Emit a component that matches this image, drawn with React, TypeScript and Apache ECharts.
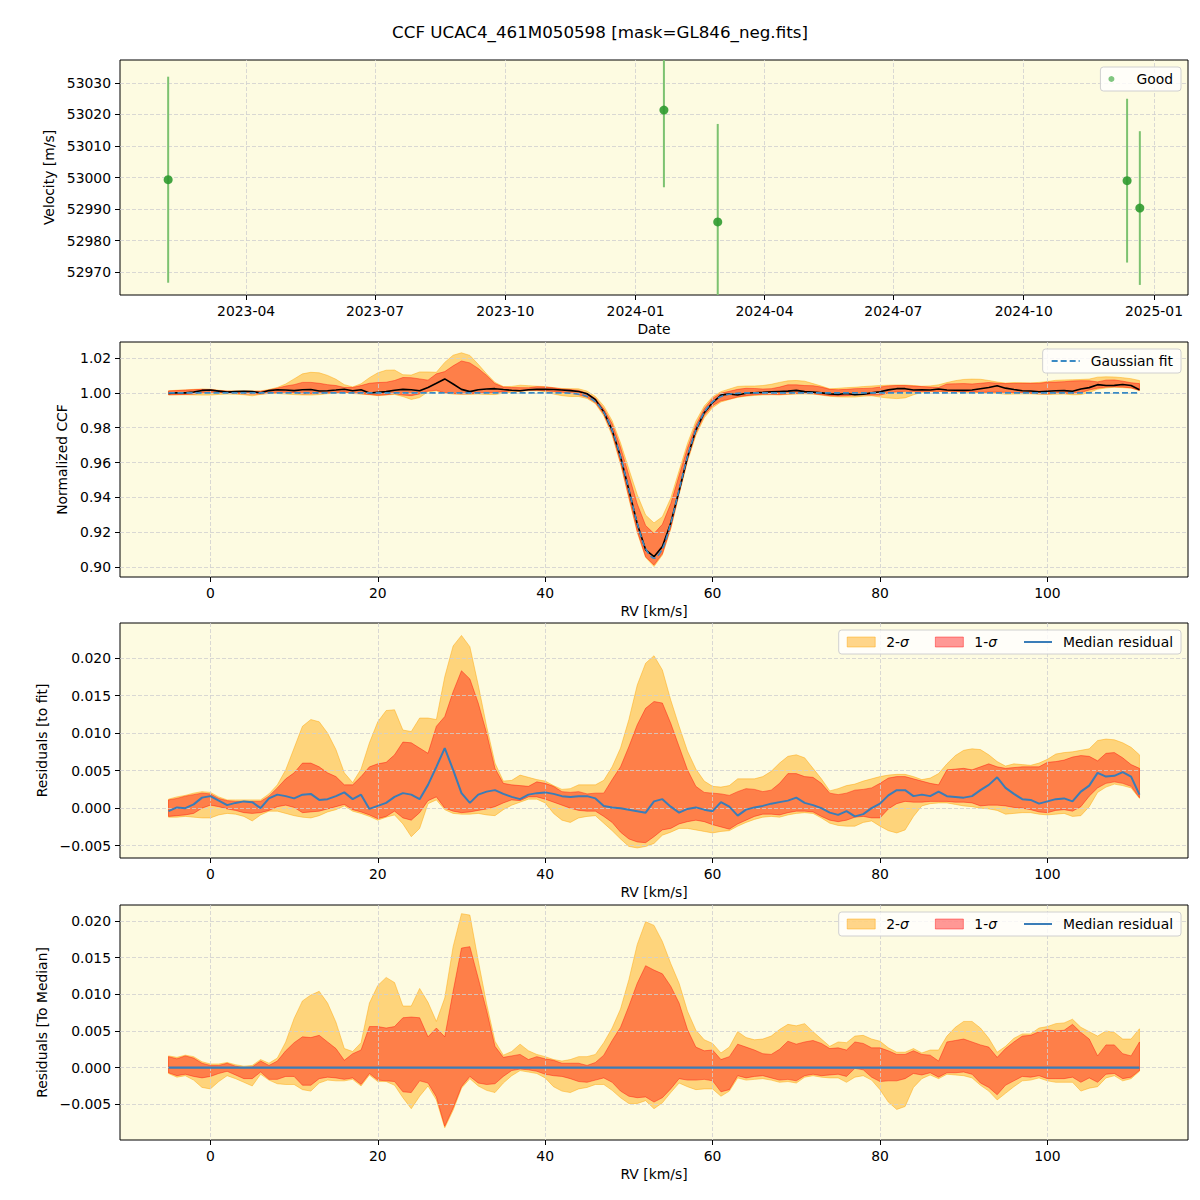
import React, { useEffect, useRef } from 'react';
import * as echarts from 'echarts';

const FONT = 'DejaVu Sans';
const TITLE = 'CCF UCAC4_461M050598 [mask=GL846_neg.fits]';

// ---------- Panel 1: velocities ----------
const obsDates = ['2023-02-05', '2024-01-21', '2024-02-28', '2024-12-13', '2024-12-22'];
const velocities = [52999.3, 53021.4, 52985.9, 52999.0, 52990.3];
const velErrors = [32.7, 24.5, 31.1, 26.0, 24.4];
const dateTicks = ['2023-04-01', '2023-07-01', '2023-10-01', '2024-01-01', '2024-04-01', '2024-07-01', '2024-10-01', '2025-01-01'];
const dateRange = ['2023-01-02', '2025-01-25'];
const velTicks = [52970, 52980, 52990, 53000, 53010, 53020, 53030];

// ---------- RV grid (km/s) ----------
const RV_START = -5;
const RV_END = 111;
const rv = Array.from({ length: RV_END - RV_START + 1 }, (_, i) => RV_START + i);
const rvTicks = [0, 20, 40, 60, 80, 100];
const ccfTicks = [0.9, 0.92, 0.94, 0.96, 0.98, 1.0, 1.02];
const resTicks = [-0.005, 0, 0.005, 0.01, 0.015, 0.02];

// Gaussian fit
const gaussFit = [
  1, 1, 1, 1, 1, 1, 1, 1, 1, 1,
  1, 1, 1, 1, 1, 1, 1, 1, 1, 1,
  1, 1, 1, 1, 1, 1, 1, 1, 1, 1,
  1, 1, 1, 1, 1, 1, 1, 1, 1, 1,
  1, 1, 1, 1, 1, 1, 1, 1,
  0.9998, 0.9992, 0.9979, 0.9948, 0.9888, 0.9785, 0.9633, 0.9444, 0.9251, 0.9105,
  0.905, 0.9105, 0.9251, 0.9444, 0.9633, 0.9785, 0.9888, 0.9948, 0.9979, 0.9992, 0.9998,
  1, 1, 1, 1, 1, 1, 1, 1, 1, 1,
  1, 1, 1, 1, 1, 1, 1, 1, 1, 1,
  1, 1, 1, 1, 1, 1, 1, 1, 1, 1,
  1, 1, 1, 1, 1, 1, 1, 1, 1, 1,
  1, 1, 1, 1, 1, 1, 1, 1,
];

// Median residual (to fit)
const medRes = [
  -0.0004, 0.0001, 0.0000, 0.0005, 0.0014, 0.0016, 0.0010, 0.0004, 0.0007, 0.0009,
  0.0008, 0.0000, 0.0013, 0.0018, 0.0016, 0.0013, 0.0018, 0.0019, 0.0011, 0.0012,
  0.0016, 0.0021, 0.0012, 0.0018, -0.0001, 0.0003, 0.0007, 0.0015, 0.0020, 0.0018,
  0.0012, 0.0031, 0.0055, 0.0080, 0.0051, 0.0020, 0.0007, 0.0018, 0.0022, 0.0024,
  0.0019, 0.0015, 0.0012, 0.0018, 0.0020, 0.0021, 0.0019, 0.0016, 0.0015, 0.0016,
  0.0016, 0.0013, 0.0003, 0.0001, 0.0000, -0.0002, -0.0004, -0.0006, 0.0009, 0.0012,
  0.0002, -0.0006, -0.0001, 0.0001, -0.0002, -0.0004, 0.0008, 0.0002, -0.0010, -0.0002,
  0.0001, 0.0003, 0.0006, 0.0008, 0.0010, 0.0014, 0.0007, 0.0004, 0.0000, -0.0006,
  -0.0009, -0.0004, -0.0011, -0.0008, 0.0000, 0.0006, 0.0017, 0.0024, 0.0024, 0.0016,
  0.0018, 0.0016, 0.0022, 0.0016, 0.0015, 0.0014, 0.0016, 0.0024, 0.0031, 0.0041,
  0.0027, 0.0019, 0.0012, 0.0011, 0.0006, 0.0009, 0.0012, 0.0013, 0.0009, 0.0022,
  0.0030, 0.0047, 0.0042, 0.0043, 0.0048, 0.0042, 0.0018,
];

// 1-sigma band of residuals (to fit)
const hi1 = [
  0.0011, 0.0013, 0.0016, 0.0018, 0.0020, 0.0019, 0.0013, 0.0010, 0.0009, 0.0009,
  0.0009, 0.0009, 0.0016, 0.0027, 0.0039, 0.0047, 0.0060, 0.0060, 0.0055, 0.0047,
  0.0042, 0.0031, 0.0031, 0.0042, 0.0055, 0.0059, 0.0061, 0.0071, 0.0088, 0.0087,
  0.0080, 0.0073, 0.0109, 0.0122, 0.0155, 0.0183, 0.0172, 0.0140, 0.0100, 0.0053,
  0.0033, 0.0031, 0.0030, 0.0029, 0.0035, 0.0033, 0.0029, 0.0022, 0.0021, 0.0022,
  0.0019, 0.0020, 0.0020, 0.0038, 0.0055, 0.0082, 0.0111, 0.0133, 0.0142, 0.0140,
  0.0113, 0.0082, 0.0051, 0.0029, 0.0021, 0.0020, 0.0019, 0.0017, 0.0022, 0.0026,
  0.0025, 0.0022, 0.0024, 0.0033, 0.0046, 0.0046, 0.0042, 0.0041, 0.0033, 0.0020,
  0.0018, 0.0020, 0.0024, 0.0025, 0.0027, 0.0033, 0.0040, 0.0042, 0.0042, 0.0039,
  0.0036, 0.0033, 0.0031, 0.0051, 0.0052, 0.0053, 0.0051, 0.0055, 0.0059, 0.0055,
  0.0053, 0.0054, 0.0055, 0.0055, 0.0055, 0.0061, 0.0062, 0.0064, 0.0068, 0.0070,
  0.0069, 0.0063, 0.0073, 0.0074, 0.0067, 0.0058, 0.0053,
];
const lo1 = [
  -0.0011, -0.0010, -0.0009, -0.0007, 0.0000, 0.0004, 0.0002, -0.0001, -0.0003, -0.0006,
  -0.0007, -0.0006, -0.0003, 0.0002, 0.0004, 0.0001, -0.0006, -0.0005, -0.0004, -0.0001,
  0.0002, 0.0005, -0.0002, -0.0005, -0.0009, -0.0014, -0.0011, -0.0004, -0.0013, -0.0016,
  -0.0006, 0.0010, 0.0015, 0.0000, -0.0004, -0.0006, -0.0005, -0.0003, -0.0001, 0.0002,
  0.0007, 0.0011, 0.0010, 0.0015, 0.0015, 0.0012, 0.0008, 0.0004, 0.0000, -0.0003,
  -0.0004, -0.0004, -0.0011, -0.0019, -0.0032, -0.0041, -0.0045, -0.0046, -0.0038, -0.0029,
  -0.0027, -0.0021, -0.0018, -0.0016, -0.0018, -0.0022, -0.0025, -0.0028, -0.0021, -0.0016,
  -0.0011, -0.0008, -0.0008, -0.0009, -0.0006, -0.0004, -0.0004, -0.0005, -0.0011, -0.0016,
  -0.0018, -0.0016, -0.0012, -0.0011, -0.0013, -0.0013, -0.0001, 0.0006, 0.0009, 0.0008,
  0.0008, 0.0009, 0.0009, 0.0009, 0.0008, 0.0008, 0.0007, 0.0003, 0.0004, 0.0004,
  0.0003, 0.0001, 0.0000, -0.0002, -0.0005, -0.0006, -0.0003, -0.0002, -0.0004, 0.0002,
  0.0016, 0.0027, 0.0033, 0.0035, 0.0033, 0.0029, 0.0014,
];

// 2-sigma band of residuals (to fit)
const hi2 = [
  0.0012, 0.0015, 0.0017, 0.0020, 0.0022, 0.0021, 0.0015, 0.0011, 0.0011, 0.0011,
  0.0011, 0.0011, 0.0019, 0.0031, 0.0051, 0.0080, 0.0109, 0.0118, 0.0115, 0.0100,
  0.0078, 0.0047, 0.0034, 0.0052, 0.0087, 0.0115, 0.0130, 0.0131, 0.0104, 0.0102,
  0.0120, 0.0120, 0.0118, 0.0175, 0.0216, 0.0230, 0.0215, 0.0164, 0.0109, 0.0060,
  0.0036, 0.0037, 0.0044, 0.0041, 0.0038, 0.0036, 0.0030, 0.0025, 0.0026, 0.0031,
  0.0031, 0.0031, 0.0037, 0.0055, 0.0080, 0.0118, 0.0164, 0.0193, 0.0203, 0.0184,
  0.0144, 0.0109, 0.0076, 0.0052, 0.0036, 0.0029, 0.0028, 0.0030, 0.0039, 0.0039,
  0.0039, 0.0042, 0.0049, 0.0060, 0.0069, 0.0071, 0.0067, 0.0053, 0.0039, 0.0023,
  0.0026, 0.0030, 0.0032, 0.0036, 0.0039, 0.0042, 0.0044, 0.0045, 0.0045, 0.0042,
  0.0038, 0.0040, 0.0046, 0.0059, 0.0070, 0.0077, 0.0079, 0.0078, 0.0071, 0.0062,
  0.0056, 0.0059, 0.0058, 0.0057, 0.0060, 0.0065, 0.0072, 0.0074, 0.0075, 0.0077,
  0.0079, 0.0090, 0.0092, 0.0091, 0.0087, 0.0081, 0.0071,
];
const lo2 = [
  -0.0012, -0.0012, -0.0011, -0.0012, -0.0013, -0.0013, -0.0009, -0.0007, -0.0008, -0.0011,
  -0.0017, -0.0009, -0.0004, -0.0004, -0.0007, -0.0010, -0.0012, -0.0013, -0.0010, -0.0005,
  -0.0002, 0.0003, -0.0004, -0.0007, -0.0011, -0.0016, -0.0012, -0.0009, -0.0021, -0.0038,
  -0.0027, 0.0006, 0.0011, -0.0002, -0.0007, -0.0008, -0.0008, -0.0007, -0.0009, -0.0010,
  -0.0002, 0.0004, 0.0008, 0.0012, 0.0012, 0.0007, -0.0007, -0.0016, -0.0019, -0.0013,
  -0.0011, -0.0010, -0.0020, -0.0030, -0.0041, -0.0051, -0.0053, -0.0051, -0.0047, -0.0036,
  -0.0032, -0.0027, -0.0027, -0.0029, -0.0031, -0.0033, -0.0031, -0.0030, -0.0024, -0.0019,
  -0.0015, -0.0012, -0.0011, -0.0012, -0.0009, -0.0007, -0.0006, -0.0007, -0.0013, -0.0020,
  -0.0023, -0.0024, -0.0024, -0.0019, -0.0017, -0.0024, -0.0030, -0.0033, -0.0029, -0.0011,
  0.0003, 0.0006, 0.0007, 0.0007, 0.0005, 0.0003, 0.0002, 0.0000, -0.0001, -0.0003,
  -0.0008, -0.0007, -0.0006, -0.0006, -0.0008, -0.0009, -0.0008, -0.0007, -0.0011, -0.0010,
  0.0002, 0.0021, 0.0028, 0.0032, 0.0030, 0.0027, 0.0013,
];

// ---------- styling ----------
const BG = '#fdfbe1';
const GRID_LINE = { color: '#cfcfcf', type: [4, 2] as any, width: 0.8 };
const C2 = 'rgba(255,165,0,0.45)';
const C1 = 'rgba(255,0,0,0.4)';
const MED_BLUE = '#3a7db8';
const FIT_BLUE = '#3a8ac4';
const FS = 13.9;

const toTs = (s: string) => {
  const [y, m, d] = s.split('-').map(Number);
  return Date.UTC(y, m - 1, d);
};
const fmtDate = (v: number) => {
  const d = new Date(v);
  return `${d.getUTCFullYear()}-${String(d.getUTCMonth() + 1).padStart(2, '0')}`;
};
const fmtRes = (v: number) => {
  const a = Math.abs(v) < 1e-9 ? 0 : v;
  return (a < 0 ? '\u2212' : '') + Math.abs(a).toFixed(3);
};

function band(name: string, gi: number, xs: number[], lo: number[], hi: number[], fill: string) {
  return {
    name,
    type: 'custom',
    xAxisIndex: gi,
    yAxisIndex: gi,
    z: 1,
    silent: true,
    data: [[xs[0], lo[0]]],
    encode: { x: 0, y: 1 },
    renderItem: (_params: any, api: any) => {
      const pts: number[][] = [];
      for (let i = 0; i < xs.length; i++) pts.push(api.coord([xs[i], hi[i]]));
      for (let i = xs.length - 1; i >= 0; i--) pts.push(api.coord([xs[i], lo[i]]));
      return {
        type: 'polygon',
        shape: { points: pts },
        style: { fill, stroke: fill, lineWidth: 1 },
      };
    },
  };
}

function buildOption() {
  const gridTops = [60, 342, 623, 905];
  const dateTickTs = dateTicks.map(toTs);

  const ccfMed = rv.map((_, i) => gaussFit[i] + medRes[i]);
  const ccfLo1 = rv.map((_, i) => gaussFit[i] + lo1[i]);
  const ccfHi1 = rv.map((_, i) => gaussFit[i] + hi1[i]);
  const ccfLo2 = rv.map((_, i) => gaussFit[i] + lo2[i]);
  const ccfHi2 = rv.map((_, i) => gaussFit[i] + hi2[i]);

  const mLo1 = rv.map((_, i) => lo1[i] - medRes[i]);
  const mHi1 = rv.map((_, i) => hi1[i] - medRes[i]);
  const mLo2 = rv.map((_, i) => lo2[i] - medRes[i]);
  const mHi2 = rv.map((_, i) => hi2[i] - medRes[i]);
  const mMed = rv.map((_, i) => medRes[i] - medRes[i]);

  const axisBase = (gi: number) => ({
    gridIndex: gi,
    z: 3,
    nameLocation: 'middle',
    nameTextStyle: { color: '#000', fontSize: FS, fontFamily: FONT },
    axisLine: { show: false, onZero: false },
    axisTick: { show: true, length: 5, lineStyle: { color: '#000', width: 1 } },
    axisLabel: { color: '#000', fontSize: FS, fontFamily: FONT, margin: 9 },
    splitLine: { show: true, lineStyle: GRID_LINE },
  });

  const xAxis: any[] = [
    {
      ...axisBase(0),
      type: 'value',
      min: toTs(dateRange[0]),
      max: toTs(dateRange[1]),
      name: 'Date',
      nameGap: 27,
      axisLabel: { ...axisBase(0).axisLabel, formatter: fmtDate, customValues: dateTickTs },
      axisTick: { ...axisBase(0).axisTick, customValues: dateTickTs },
      splitLine: { show: false },
    },
  ];
  for (let gi = 1; gi <= 3; gi++) {
    const b = axisBase(gi);
    xAxis.push({
      ...b,
      type: 'value',
      min: -10.8,
      max: 116.8,
      minInterval: 20,
      maxInterval: 20,
      name: 'RV [km/s]',
      nameGap: 27,
      axisLabel: { ...b.axisLabel, customValues: rvTicks, formatter: (v: number) => String(v) },
      axisTick: { ...b.axisTick, customValues: rvTicks },
    });
  }

  const yAxis: any[] = [
    {
      ...axisBase(0), type: 'value', min: 52962.7, max: 53037.3, minInterval: 10, maxInterval: 10,
      name: 'Velocity [m/s]', nameGap: 58,
      axisLabel: { ...axisBase(0).axisLabel, customValues: velTicks, formatter: (v: number) => String(Math.round(v)) },
      axisTick: { ...axisBase(0).axisTick, customValues: velTicks },
    },
    {
      ...axisBase(1), type: 'value', min: 0.89426, max: 1.0292, minInterval: 0.02, maxInterval: 0.02,
      name: 'Normalized CCF', nameGap: 46,
      axisLabel: { ...axisBase(1).axisLabel, customValues: ccfTicks, formatter: (v: number) => v.toFixed(2) },
      axisTick: { ...axisBase(1).axisTick, customValues: ccfTicks },
    },
    {
      ...axisBase(2), type: 'value', min: -0.00664, max: 0.02466, minInterval: 0.005, maxInterval: 0.005,
      name: 'Residuals [to fit]', nameGap: 67,
      axisLabel: { ...axisBase(2).axisLabel, customValues: resTicks, formatter: fmtRes },
      axisTick: { ...axisBase(2).axisTick, customValues: resTicks },
    },
    {
      ...axisBase(3), type: 'value', min: -0.00987, max: 0.02218, minInterval: 0.005, maxInterval: 0.005,
      name: 'Residuals [To Median]', nameGap: 67,
      axisLabel: { ...axisBase(3).axisLabel, customValues: resTicks, formatter: fmtRes },
      axisTick: { ...axisBase(3).axisTick, customValues: resTicks },
    },
  ];

  const dates = obsDates.map(toTs);

  const series: any[] = [
    // Panel 1
    {
      name: 'Good err',
      type: 'custom',
      xAxisIndex: 0,
      yAxisIndex: 0,
      z: 4,
      silent: true,
      data: dates.map((d, i) => [d, velocities[i], velErrors[i]]),
      encode: { x: 0, y: 1 },
      renderItem: (params: any, api: any) => {
        const x = api.value(0);
        const y = api.value(1);
        const e = api.value(2);
        const top = api.coord([x, y + e]);
        const bot = api.coord([x, y - e]);
        const cs = params.coordSys;
        const y1 = Math.max(cs.y, Math.min(cs.y + cs.height, top[1]));
        const y2 = Math.max(cs.y, Math.min(cs.y + cs.height, bot[1]));
        return {
          type: 'line',
          shape: { x1: top[0], y1, x2: bot[0], y2 },
          style: { stroke: '#7cc270', lineWidth: 2 },
        };
      },
    },
    {
      name: 'Good',
      type: 'scatter',
      xAxisIndex: 0,
      yAxisIndex: 0,
      z: 5,
      symbol: 'circle',
      symbolSize: 9,
      itemStyle: { color: '#2f9a2f', opacity: 0.9 },
      data: dates.map((d, i) => [d, velocities[i]]),
      markLine: {
        z: 1,
        silent: true,
        symbol: ['none', 'none'],
        label: { show: false },
        emphasis: { disabled: true },
        lineStyle: GRID_LINE,
        data: dateTickTs.map((t) => ({ xAxis: t })),
      },
    },
    // Panel 2
    band('CCF 2-σ', 1, rv, ccfLo2, ccfHi2, C2),
    band('CCF 1-σ', 1, rv, ccfLo1, ccfHi1, C1),
    {
      name: 'CCF median',
      type: 'line',
      xAxisIndex: 1,
      yAxisIndex: 1,
      z: 5,
      symbol: 'none',
      lineStyle: { color: '#000', width: 1.6 },
      data: rv.map((r, i) => [r, ccfMed[i]]),
    },
    {
      name: 'Gaussian fit',
      type: 'line',
      xAxisIndex: 1,
      yAxisIndex: 1,
      z: 6,
      symbol: 'none',
      smooth: 0.3,
      itemStyle: { color: FIT_BLUE },
      lineStyle: { color: FIT_BLUE, width: 1.6, type: [6, 3] },
      data: rv.map((r, i) => [r, gaussFit[i]]),
    },
    // Panel 3
    band('2-σ', 2, rv, lo2, hi2, C2),
    band('1-σ', 2, rv, lo1, hi1, C1),
    {
      name: 'Median residual',
      type: 'line',
      xAxisIndex: 2,
      yAxisIndex: 2,
      z: 5,
      symbol: 'none',
      itemStyle: { color: MED_BLUE },
      lineStyle: { color: MED_BLUE, width: 2 },
      data: rv.map((r, i) => [r, medRes[i]]),
    },
    // Panel 4
    band('2-σ', 3, rv, mLo2, mHi2, C2),
    band('1-σ', 3, rv, mLo1, mHi1, C1),
    {
      name: 'Median residual',
      type: 'line',
      xAxisIndex: 3,
      yAxisIndex: 3,
      z: 5,
      symbol: 'none',
      itemStyle: { color: MED_BLUE },
      lineStyle: { color: MED_BLUE, width: 2.2 },
      data: rv.map((r, i) => [r, mMed[i]]),
    },
  ];

  const legendBase = {
    right: 19,
    orient: 'horizontal',
    selectedMode: false,
    backgroundColor: 'rgba(255,255,255,0.8)',
    borderColor: '#d0d0d0',
    borderWidth: 1,
    borderRadius: 3,
    padding: [5, 8, 5, 8],
    itemWidth: 28,
    itemHeight: 10,
    itemGap: 26,
    z: 10,
    textStyle: {
      color: '#000',
      fontSize: FS,
      fontFamily: FONT,
      padding: [0, 0, 0, 6],
      rich: { i: { fontStyle: 'italic', fontSize: FS, fontFamily: FONT, color: '#000' } },
    },
    formatter: (name: string) => name.replace('σ', '{i|σ}'),
  };
  const sigmaLegendData = [
    { name: '2-σ', icon: 'rect', itemStyle: { color: C2, borderColor: C2, borderWidth: 1 } },
    { name: '1-σ', icon: 'rect', itemStyle: { color: C1, borderColor: C1, borderWidth: 1 } },
    { name: 'Median residual', itemStyle: { opacity: 0 }, lineStyle: { color: MED_BLUE, width: 2 } },
  ];

  const legend: any[] = [
    {
      ...legendBase,
      top: 67,
      itemWidth: 28,
      itemHeight: 6,
      data: [{ name: 'Good', icon: 'circle', itemStyle: { color: '#72c072' } }],
    },
    {
      ...legendBase,
      top: 349,
      data: [{ name: 'Gaussian fit', itemStyle: { opacity: 0 }, lineStyle: { color: FIT_BLUE, width: 2, type: [6, 3] } }],
    },
    { ...legendBase, top: 630, data: sigmaLegendData },
    { ...legendBase, top: 912, data: sigmaLegendData },
  ];

  return {
    animation: false,
    backgroundColor: '#ffffff',
    textStyle: { fontFamily: FONT },
    title: {
      text: TITLE,
      left: 'center',
      top: 18,
      textStyle: { fontSize: 16.7, fontWeight: 'normal', color: '#000', fontFamily: FONT },
    },
    grid: gridTops.map((top) => ({
      left: 120,
      top,
      width: 1068,
      height: 235,
      show: true,
      backgroundColor: BG,
      borderColor: '#000',
      borderWidth: 1,
    })),
    xAxis,
    yAxis,
    legend,
    series,
  };
}

export default function App() {
  const ref = useRef<HTMLDivElement>(null);
  useEffect(() => {
    if (!ref.current) return;
    const chart = echarts.init(ref.current, null, { renderer: 'svg' });
    chart.setOption(buildOption() as any);
    return () => {
      chart.dispose();
    };
  }, []);
  return (
    <div
      ref={ref}
      style={{ position: 'fixed', left: 0, top: 0, width: 1200, height: 1200, background: '#fff' }}
    />
  );
}
